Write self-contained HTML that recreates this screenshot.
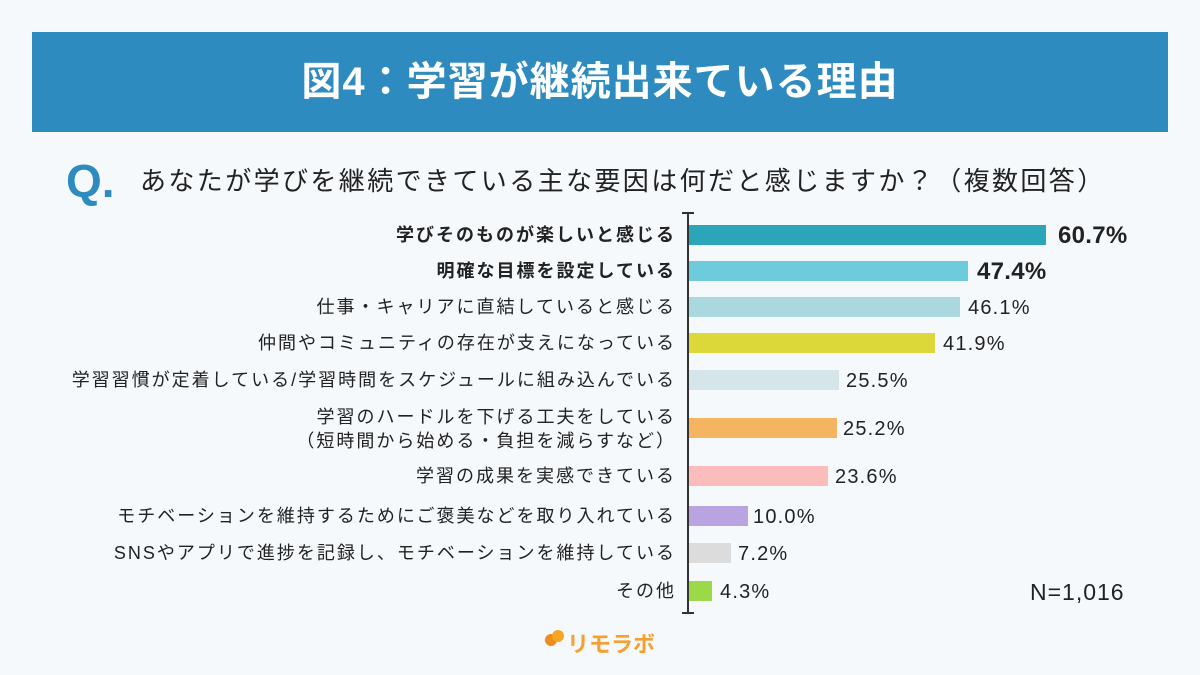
<!DOCTYPE html>
<html><head><meta charset="utf-8"><style>
body{margin:0;width:1200px;height:675px;background:#f5f9fc;position:relative;overflow:hidden;font-family:"Liberation Sans","Noto Sans CJK JP",sans-serif;color:#222}
.hdr{position:absolute;left:32px;top:32px;width:1136px;height:100px;background:#2e8bbf;color:#fff;font-weight:bold;font-size:40px;text-align:center;line-height:100px;letter-spacing:1px}
.q{position:absolute;left:66px;top:154px;font-size:46px;font-weight:bold;color:#2e8bbf;font-family:"Liberation Sans",sans-serif}
.qt{position:absolute;left:140px;top:161px;font-size:26px;color:#222;letter-spacing:2.4px}
.axis{position:absolute;left:687px;top:212px;width:2px;height:402px;background:#333}
.tk{position:absolute;left:682px;width:12px;height:2px;background:#333}
.bar{position:absolute;left:689px;height:20px}
.lab{position:absolute;right:524px;font-size:18px;letter-spacing:2px;text-align:right;white-space:nowrap;line-height:20px}
.val{position:absolute;font-size:20px;line-height:20px;letter-spacing:1.2px}
.b{font-weight:bold}
</style></head><body>
<div class="hdr">図4：学習が継続出来ている理由</div>
<div class="q">Q.</div>
<div class="qt">あなたが学びを継続できている主な要因は何だと感じますか？（複数回答）</div>
<div class="axis"></div><div class="tk" style="top:212px"></div><div class="tk" style="top:612px"></div>

<div class="lab b" style="top:225px">学びそのものが楽しいと感じる</div>
<div class="bar" style="top:225px;width:357px;background:#2aa6b8"></div>
<div class="val b" style="top:226px;left:1058px;font-size:24px;letter-spacing:0.3px">60.7%</div>

<div class="lab b" style="top:261px">明確な目標を設定している</div>
<div class="bar" style="top:261px;width:279px;background:#6ccbdc"></div>
<div class="val b" style="top:262px;left:977px;font-size:24px;letter-spacing:0.3px">47.4%</div>

<div class="lab" style="top:297px">仕事・キャリアに直結していると感じる</div>
<div class="bar" style="top:297px;width:271px;background:#a9d8de"></div>
<div class="val" style="top:298px;left:968px">46.1%</div>

<div class="lab" style="top:333px">仲間やコミュニティの存在が支えになっている</div>
<div class="bar" style="top:333px;width:246px;background:#dcd83a"></div>
<div class="val" style="top:334px;left:943px">41.9%</div>

<div class="lab" style="top:370px">学習習慣が定着している/学習時間をスケジュールに組み込んでいる</div>
<div class="bar" style="top:370px;width:150px;background:#d4e6ea"></div>
<div class="val" style="top:371px;left:846px">25.5%</div>

<div class="lab" style="top:405px;line-height:24px">学習のハードルを下げる工夫をしている<br>（短時間から始める・負担を減らすなど）</div>
<div class="bar" style="top:418px;width:148px;background:#f5b460"></div>
<div class="val" style="top:419px;left:843px">25.2%</div>

<div class="lab" style="top:466px">学習の成果を実感できている</div>
<div class="bar" style="top:466px;width:139px;background:#fbbcbc"></div>
<div class="val" style="top:467px;left:835px">23.6%</div>

<div class="lab" style="top:506px">モチベーションを維持するためにご褒美などを取り入れている</div>
<div class="bar" style="top:506px;width:59px;background:#b9a3e0"></div>
<div class="val" style="top:507px;left:753px">10.0%</div>

<div class="lab" style="top:543px">SNSやアプリで進捗を記録し、モチベーションを維持している</div>
<div class="bar" style="top:543px;width:42px;background:#dcdcdc"></div>
<div class="val" style="top:544px;left:738px">7.2%</div>

<div class="lab" style="top:581px">その他</div>
<div class="bar" style="top:581px;width:23px;background:#9bd84a"></div>
<div class="val" style="top:582px;left:720px">4.3%</div>

<div class="val" style="top:582px;left:1030px;font-size:23px;letter-spacing:1px">N=1,016</div>

<div style="position:absolute;left:545px;top:634px;width:12px;height:12px;border-radius:50%;background:#f08c1e"></div>
<div style="position:absolute;left:552px;top:630px;width:12px;height:12px;border-radius:50%;background:#f5a623"></div>
<div style="position:absolute;left:567px;top:627px;font-size:22px;font-weight:bold;color:#f5a030">リモラボ</div>
</body></html>
